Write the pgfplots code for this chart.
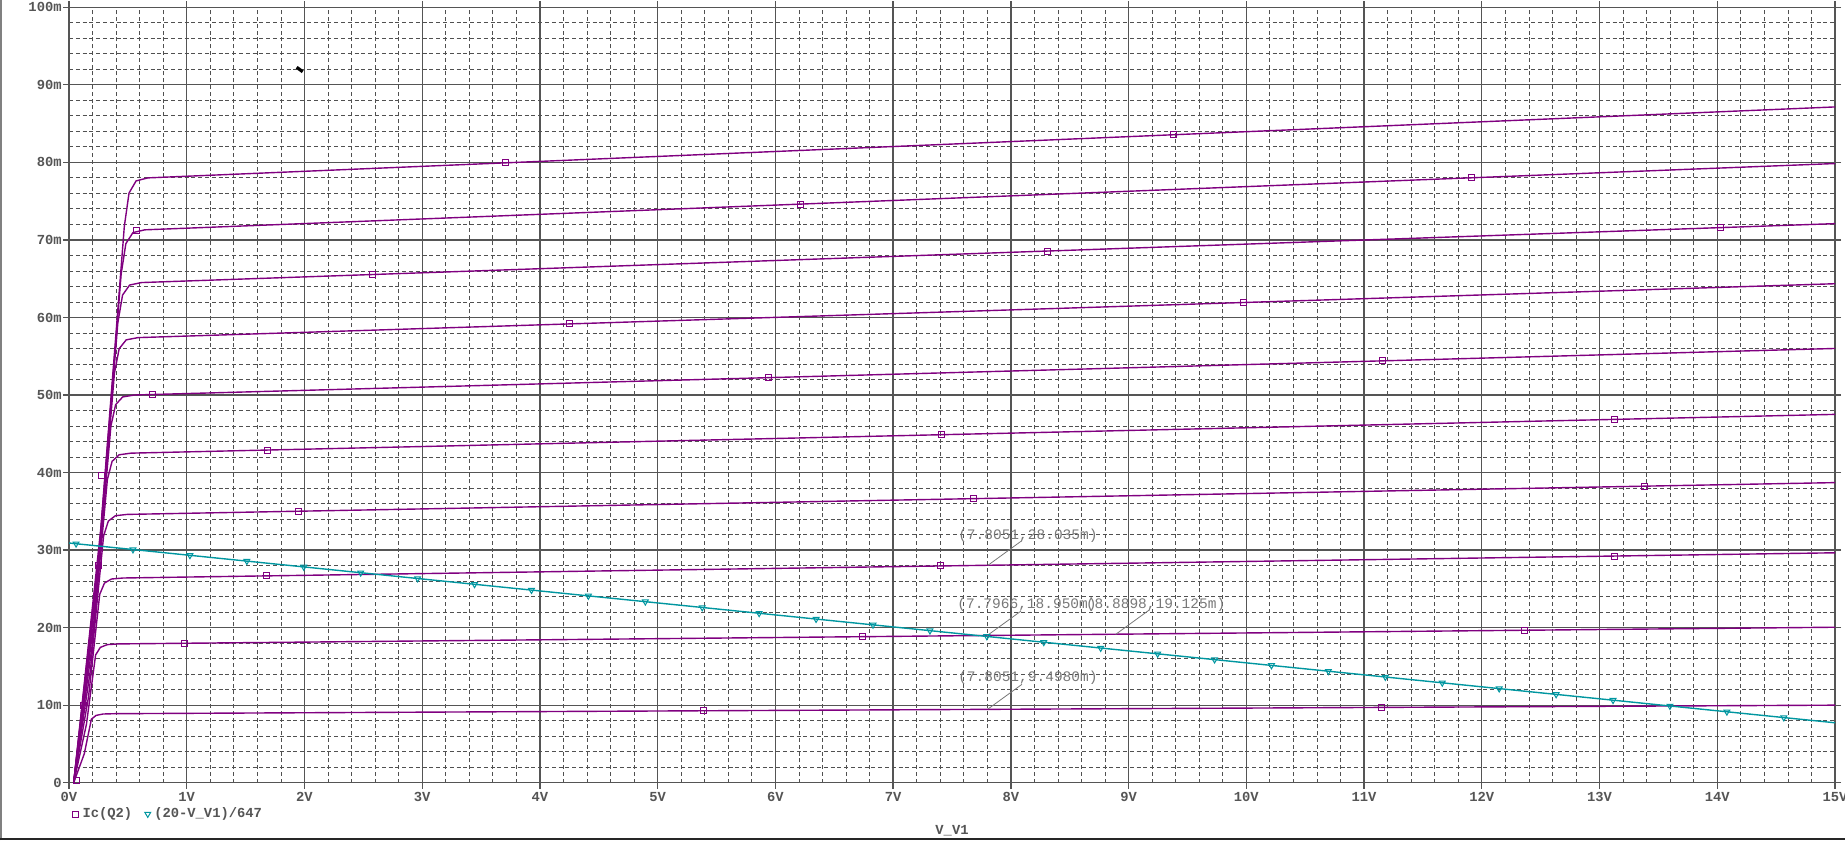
\documentclass[border=0pt]{standalone}
\usepackage{pgfplots}
\pgfplotsset{compat=1.18}
\usepackage{fontspec}
\setmainfont{Liberation Mono}
\definecolor{pspurple}{RGB}{128,0,128}
\definecolor{pscyan}{RGB}{0,150,160}
\definecolor{gridmaj}{RGB}{85,85,85}
\definecolor{gridmin}{RGB}{80,80,80}
\definecolor{labelgray}{RGB}{85,85,85}
\definecolor{annogray}{RGB}{120,120,120}
\begin{document}
\begin{tikzpicture}
\useasboundingbox (-34.5pt,-28.65pt) rectangle (888pt,391.35pt);
\begin{axis}[
  scale only axis, width=883pt, height=387.7pt,
  at={(0,0)}, anchor=south west,
  xmin=0, xmax=15, ymin=0, ymax=100,
  xtick={0,1,...,15}, ytick={0,10,...,100},
  xticklabels={0V,1V,2V,3V,4V,5V,6V,7V,8V,9V,10V,11V,12V,13V,14V,15V},
  yticklabels={0,10m,20m,30m,40m,50m,60m,70m,80m,90m,100m},
  minor x tick num=4, minor y tick num=4,
  grid=both,
  major grid style={gridmaj, line width=0.65pt},
  minor grid style={gridmin, line width=0.4pt, dash pattern=on 2pt off 1.4pt},
  axis line style={gridmaj, line width=0.65pt},
  tick align=outside, major tick length=3pt, minor tick length=0pt,
  tick style={gridmaj, line width=0.65pt},
  ticklabel style={font=\fontsize{6.9}{7}\selectfont\bfseries, text=labelgray},
  xticklabel style={anchor=north, inner sep=0pt, yshift=-1.5pt},
  yticklabel style={anchor=east, inner sep=0pt, xshift=-0.5pt},
  xlabel={V\_V1},
  xlabel style={at={(axis description cs:0.5,-0.062)}, anchor=center, font=\fontsize{6.9}{7}\selectfont\bfseries, text=labelgray, inner sep=0pt},
  legend style={at={(axis description cs:0.002,-0.0404)}, anchor=west, draw=none, fill=none,
    font=\fontsize{6.9}{7}\selectfont\bfseries, text=labelgray, inner sep=0pt,
    nodes={inner sep=1.8pt},
    /tikz/every even column/.append style={column sep=4.5pt}},
  legend columns=2,
  legend image code/.code={\draw[#1] plot coordinates {(0pt,0pt)};},
]
\addlegendimage{only marks, mark=square, mark size=1.5pt, pspurple, mark options={line width=0.5pt}}
\addlegendentry{Ic(Q2)}
\addlegendimage{only marks, mark=triangle, mark size=1.7pt, pscyan, mark options={rotate=180, line width=0.5pt}}
\addlegendentry{(20-V\_V1)/647}

% Ic(Q2) family
\pgfplotsset{every axis plot/.append style={forget plot}}
\addplot[pspurple, line width=0.7pt] coordinates {(0.04,0) (0.27,32.76) (0.47,71.76) (0.51,76.05) (0.57,77.61) (0.67,78.0) (15,87.15)};
\addplot[pspurple, line width=0.7pt] coordinates {(0.04,0) (0.257,29.95) (0.443,65.60) (0.483,69.52) (0.543,70.94) (0.643,71.3) (15,79.85)};
\addplot[pspurple, line width=0.7pt] coordinates {(0.04,0) (0.243,27.09) (0.415,59.34) (0.455,62.89) (0.515,64.18) (0.615,64.5) (15,72.1)};
\addplot[pspurple, line width=0.7pt] coordinates {(0.04,0) (0.228,24.11) (0.386,52.81) (0.426,55.97) (0.486,57.11) (0.586,57.4) (15,64.35)};
\addplot[pspurple, line width=0.7pt] coordinates {(0.04,0) (0.213,21.0) (0.356,46.0) (0.396,48.75) (0.456,49.75) (0.556,50.0) (15,56.0)};
\addplot[pspurple, line width=0.7pt] coordinates {(0.04,0) (0.198,17.85) (0.326,39.1) (0.366,41.44) (0.426,42.29) (0.526,42.5) (15,47.5)};
\addplot[pspurple, line width=0.7pt] coordinates {(0.04,0) (0.182,14.53) (0.294,31.83) (0.334,33.74) (0.394,34.43) (0.494,34.6) (15,38.7)};
\addplot[pspurple, line width=0.7pt] coordinates {(0.04,0) (0.166,11.09) (0.261,24.29) (0.301,25.74) (0.361,26.27) (0.461,26.4) (15,29.65)};
\addplot[pspurple, line width=0.7pt] coordinates {(0.04,0) (0.148,7.52) (0.226,16.47) (0.266,17.45) (0.326,17.81) (0.426,17.9) (15,20.05)};
\addplot[pspurple, line width=0.7pt] coordinates {(0.04,0) (0.13,3.74) (0.19,8.19) (0.23,8.68) (0.29,8.86) (0.39,8.9) (15,10.0)};
% Ic(Q2) markers
\addplot[only marks, mark=square, mark size=1.5pt, pspurple, mark options={line width=0.5pt, fill=white}] coordinates {
 (3.71,79.94) (9.38,83.56)
 (0.57,71.2) (6.21,74.62) (11.91,78.01)
 (2.58,65.54) (8.31,68.57) (14.03,71.59)
 (4.25,59.17) (9.98,61.93)
 (0.71,50.06) (5.94,52.24) (11.16,54.40)
 (1.69,42.90) (7.41,44.88) (13.13,46.85)
 (1.95,35.01) (7.68,36.63) (13.38,38.24)
 (1.68,26.67) (7.40,27.95) (13.13,29.23)
 (0.985,17.98) (6.74,18.83) (12.36,19.66)
 (5.39,9.28) (11.15,9.71)
 (0.06,0.3) (0.12,10) (0.25,28) (0.28,39.6)
};
% (20-V_V1)/647
\addplot[pscyan, line width=0.7pt] coordinates {(0,30.912) (15,7.728)};
\addplot[only marks, mark=triangle, mark size=1.7pt, pscyan, mark options={rotate=180, line width=0.5pt}] coordinates {
 (0.06,30.819) (0.5435,30.072) (1.027,29.325) (1.5105,28.577) (1.994,27.830)
 (2.4775,27.082) (2.961,26.335) (3.4445,25.588) (3.928,24.841) (4.4115,24.093)
 (4.895,23.346) (5.3785,22.599) (5.862,21.852) (6.3455,21.104) (6.829,20.357)
 (7.3125,19.610) (7.796,18.862) (8.2795,18.115) (8.763,17.368) (9.2465,16.620)
 (9.730,15.873) (10.2135,15.126) (10.697,14.379) (11.1805,13.631) (11.664,12.884)
 (12.1475,12.137) (12.631,11.389) (13.1145,10.642) (13.598,9.895) (14.0815,9.148)
 (14.565,8.400)
};
% cursor annotations
\draw[annogray, line width=0.4pt] (axis cs:7.8051,28.035) -- (axis cs:8.094,31.225);
\node[anchor=west, text=annogray, font=\fontsize{7.25}{8}\selectfont, inner sep=0pt] at (axis cs:7.550,31.87) {(7.8051,28.035m)};
\draw[annogray, line width=0.4pt] (axis cs:7.7966,18.950) -- (axis cs:8.086,22.14);
\node[anchor=west, text=annogray, font=\fontsize{7.25}{8}\selectfont, inner sep=0pt] at (axis cs:7.542,23.0) {(7.7966,18.950m)};
\draw[annogray, line width=0.4pt] (axis cs:8.8898,19.125) -- (axis cs:9.179,22.315);
\node[anchor=west, text=annogray, font=\fontsize{7.25}{8}\selectfont, inner sep=0pt] at (axis cs:8.635,23.0) {(8.8898,19.125m)};
\draw[annogray, line width=0.4pt] (axis cs:7.8051,9.498) -- (axis cs:8.094,12.688);
\node[anchor=west, text=annogray, font=\fontsize{7.25}{8}\selectfont, inner sep=0pt] at (axis cs:7.550,13.5) {(7.8051,9.4980m)};
% small cursor artifact
\draw[black, line width=1.6pt] (axis cs:1.934,92.26) -- (axis cs:1.985,91.69);
\end{axis}
% window frame
\draw[gray, line width=1.2pt] (-33.9pt,-28.65pt) -- (-33.9pt,391.35pt);
\draw[black!85, line width=1pt] (-34.5pt,-27.9pt) -- (888pt,-27.9pt);
\end{tikzpicture}
\end{document}
